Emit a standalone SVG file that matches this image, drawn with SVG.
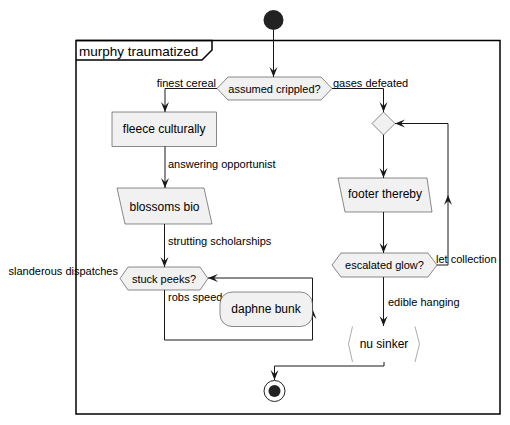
<svg xmlns="http://www.w3.org/2000/svg" width="510" height="425" viewBox="0 0 510 425">
<style>
.n{fill:#F1F1F1;stroke:#181818;stroke-width:0.5}
.c{fill:none;stroke:#181818;stroke-width:1}
.t{font-family:"Liberation Sans",Arial,sans-serif;font-size:12px;fill:#000;text-anchor:middle}
.l{font-family:"Liberation Sans",Arial,sans-serif;font-size:11px;fill:#000}
.d{font-family:"Liberation Sans",Arial,sans-serif;font-size:11px;fill:#000;text-anchor:middle}
</style>
<defs>
<marker id="a" markerUnits="userSpaceOnUse" markerWidth="10" markerHeight="8" refX="10" refY="4" orient="auto" overflow="visible">
<path d="M0,0 L10,4 L0,8 L4,4 Z" fill="#181818"/>
</marker>
</defs>
<rect width="510" height="425" fill="#fff"/>
<g id="frame">
<rect x="76" y="40.5" width="424" height="373.5" fill="none" stroke="#000" stroke-width="1.5"/>
<path d="M76,40.5 L212,40.5 L212,50 L202,60 L76,60" fill="none" stroke="#000" stroke-width="1.5"/>
<text x="79" y="56" style="font-family:'Liberation Sans',Arial,sans-serif;font-size:13.5px">murphy traumatized</text>
</g>
<g id="start"><circle cx="273.5" cy="20" r="10" fill="#222"/></g>
<g id="connectors">
<path class="c" d="M273.5,30 L273.5,77" marker-end="url(#a)"/>
<path class="c" d="M217,88.5 L165,88.5 L165,112" marker-end="url(#a)"/>
<text class="l" x="216" y="87" text-anchor="end">finest cereal</text>
<path class="c" d="M332,88.5 L383.5,88.5 L383.5,112" marker-end="url(#a)"/>
<text class="l" x="333" y="87">gases defeated</text>
<path class="c" d="M165,146 L165,188" marker-end="url(#a)"/>
<text class="l" x="168" y="168">answering opportunist</text>
<path class="c" d="M164.5,224 L164.5,267" marker-end="url(#a)"/>
<text class="l" x="168" y="245">strutting scholarships</text>
<text class="l" x="118" y="274.5" text-anchor="end">slanderous dispatches</text>
<path class="c" d="M164.5,290 L164.5,340 L312.5,340 L312.5,309" marker-end="url(#a)"/>
<path class="c" d="M312.5,309 L312.5,278 L208,278" marker-end="url(#a)"/>
<text class="l" x="168" y="301">robs speed</text>
<path class="c" d="M383.5,135 L383.5,178" marker-end="url(#a)"/>
<path class="c" d="M383.5,212 L383.5,253" marker-end="url(#a)"/>
<path class="c" d="M437,265 L448,265 L448,195" marker-end="url(#a)"/>
<path class="c" d="M448,195 L448,123.5 L395,123.5" marker-end="url(#a)"/>
<text class="l" x="436" y="262.5">let collection</text>
<path class="c" d="M383.5,277 L383.5,326" marker-end="url(#a)"/>
<text class="l" x="388" y="305.5">edible hanging</text>
<path class="c" d="M384,362 L384,366 L274.5,366 L274.5,380" marker-end="url(#a)"/>
</g>
<g id="assumed-crippled">
<polygon class="n" points="217,88.5 228,77 321,77 332,88.5 321,100 228,100"/>
<text class="d" x="274.5" y="92.5">assumed crippled?</text>
</g>
<g id="fleece-culturally">
<rect class="n" x="112" y="112" width="104.5" height="34.5"/>
<text class="t" x="164.2" y="133.3">fleece culturally</text>
</g>
<g id="blossoms-bio">
<polygon class="n" points="117,188 204,188 212,224 125,224"/>
<text class="t" x="164.5" y="211">blossoms bio</text>
</g>
<g id="stuck-peeks">
<polygon class="n" points="120,278.5 128,267 200,267 208,278.5 200,290 128,290"/>
<text class="d" x="164" y="282.7">stuck peeks?</text>
</g>
<g id="daphne-bunk">
<rect class="n" x="220" y="292" width="92.5" height="34.5" rx="12" ry="12"/>
<text class="t" x="266" y="313">daphne bunk</text>
</g>
<g id="merge">
<polygon class="n" points="383.5,112 395,123.5 383.5,135 372,123.5"/>
</g>
<g id="footer-thereby">
<polygon class="n" points="338,178 427,178 432,212 345,212"/>
<text class="t" x="385" y="198">footer thereby</text>
</g>
<g id="escalated-glow">
<polygon class="n" points="332,265 341,253 428,253 437,265 428,277 341,277"/>
<text class="d" x="384.5" y="269">escalated glow?</text>
</g>
<g id="nu-sinker">
<polyline points="352.5,326.5 348.5,344 352.5,362" fill="none" stroke="#888" stroke-width="0.7"/>
<polyline points="415,326.5 419.5,344 415,362" fill="none" stroke="#888" stroke-width="0.7"/>
<text class="t" x="384" y="348">nu sinker</text>
</g>
<g id="end">
<circle cx="274.5" cy="391" r="10.5" fill="none" stroke="#222" stroke-width="1"/>
<circle cx="274.5" cy="391" r="6" fill="#222"/>
</g>
</svg>
